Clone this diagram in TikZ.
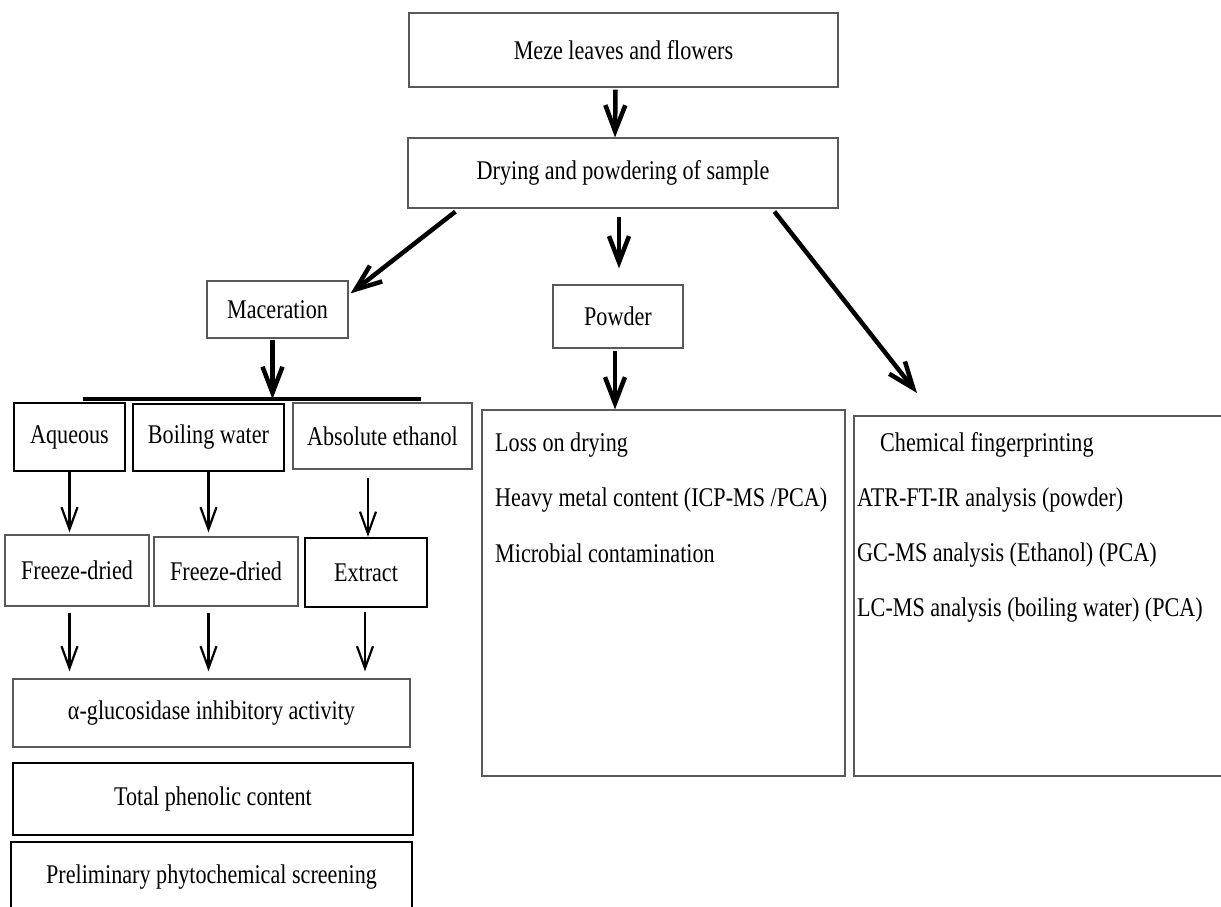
\documentclass[tikz,border=0pt]{standalone}
\usepackage{fontspec}
\setmainfont{Liberation Serif}[FakeStretch=0.82]
\usetikzlibrary{arrows.meta,calc}
\begin{document}
\begin{tikzpicture}[x=1pt,y=-1pt,
  every node/.style={font=\fontsize{27}{31}\selectfont, inner sep=0pt},
  thinbox/.style={draw=black!65, line width=1.2pt, fill=white},
  thickbox/.style={draw=black, line width=2.2pt, fill=white},
  txt/.style={anchor=west},
  bigarrow/.style={line width=4.5pt, -{Straight Barb[length=26pt,width=20pt]}},
  smallarrow/.style={line width=2.2pt, -{Straight Barb[length=22pt,width=16pt]}},
  bar/.style={line width=4pt}]
\useasboundingbox (0,0) rectangle (1221,907);
\clip (0,0) rectangle (1221,907);
\fill[white] (0,0) rectangle (1221,907);

% top boxes
\node[thinbox, minimum width=429, minimum height=74] (meze) at (623.5,50) {Meze leaves and flowers};
\node[thinbox, minimum width=430, minimum height=70] (dry) at (623,173) {Drying and powdering of sample};
\node[thinbox, minimum width=141, minimum height=57] (mac) at (277.5,309.5) {Maceration};
\node[thinbox, minimum width=130, minimum height=63] (pow) at (618,316.5) {Powder};

% extraction boxes
\node[thickbox, line width=1.8pt, minimum width=111, minimum height=68] (aq) at (69.5,437) {Aqueous};
\node[thickbox, minimum width=151, minimum height=67] (bw) at (208.5,437.5) {Boiling water};
\node[thinbox, minimum width=179, minimum height=66] (eth) at (382.5,436) {Absolute ethanol};
\node[thinbox, minimum width=144, minimum height=71] (fd1) at (77,570.5) {Freeze-dried};
\node[thinbox, minimum width=144, minimum height=69] (fd2) at (226,571.5) {Freeze-dried};
\node[thickbox, minimum width=122, minimum height=69] (ext) at (366,572.5) {Extract};
\node[thinbox, minimum width=397, minimum height=68] (alpha) at (211.5,713) {α-glucosidase inhibitory activity};
\node[thickbox, minimum width=400, minimum height=72] (tpc) at (213,799) {Total phenolic content};
\node[thickbox, minimum width=401, minimum height=70] (prel) at (211.5,877) {Preliminary phytochemical screening};

% big boxes
\node[thinbox, minimum width=363, minimum height=366] (mid) at (663.5,593) {};
\node[txt] (m1) at (495,445) {Loss on drying};
\node[txt] (m2) at (495,500) {Heavy metal content (ICP-MS /PCA)};
\node[txt] (m3) at (495,553) {Microbial contamination};

\node[thinbox, minimum width=381, minimum height=360] (right) at (1044.5,596) {};
\node[txt] (r1) at (880,445) {Chemical fingerprinting};
\node[txt] (r2) at (857,500) {ATR-FT-IR analysis (powder)};
\node[txt] (r3) at (857,555) {GC-MS analysis (Ethanol) (PCA)};
\node[txt] (r4) at (857,610) {LC-MS analysis (boiling water) (PCA)};

% bar under maceration
\coordinate (barL) at (83,399);
\coordinate (barR) at (421,399);
\draw[bar] (barL) -- (barR);

% big arrows
\draw[bigarrow] ($(meze.south)+(-8,2)$) -- ($(dry.north)+(-8,0)$);
\draw[bigarrow] ($(dry.south west)+(48,3)$) -- ($(mac.north east)+(2,13)$);
\draw[bigarrow] ($(pow.north |- dry.south)+(1,8)$) -- ($(pow.north)+(1,-16)$);
\coordinate (rtip) at (917,393);
\draw[bigarrow] ($(dry.south west)+(367,3)$) -- (rtip);
\draw[bigarrow] ($(mac.south)+(-5,1)$) -- ($(barL -| mac.south)+(-5,0)$);
\draw[bigarrow] ($(pow.south)+(-3,2)$) -- ($(pow.south |- mid.north)+(-3,0)$);

% small arrows
\draw[smallarrow] (aq.south) -- ($(fd1.north -| aq.south)+(0,-2)$);
\draw[smallarrow] (bw.south) -- ($(fd2.north -| bw.south)+(0,-4)$);
\draw[smallarrow] ($(ext.north |- eth.south)+(2,8)$) -- ($(ext.north)+(2,0)$);
\draw[smallarrow] ($(fd1.south -| aq.south)+(0,6)$) -- ($(alpha.north -| aq.south)+(0,-7)$);
\draw[smallarrow] ($(fd2.south -| bw.south)+(0,6)$) -- ($(alpha.north -| bw.south)+(0,-7)$);
\draw[smallarrow] ($(ext.south)+(-1,4)$) -- ($(alpha.north -| ext.south)+(-1,-7)$);
\end{tikzpicture}
\end{document}
